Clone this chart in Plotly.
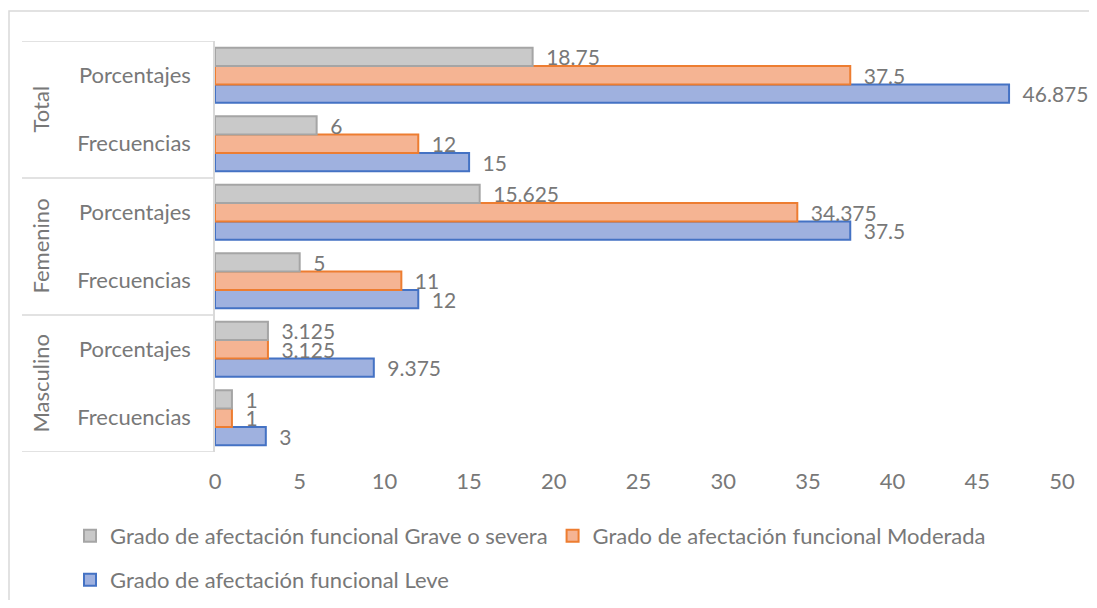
import plotly.graph_objects as go

# --- Data ---
groups = ["Masculino", "Masculino", "Femenino", "Femenino", "Total", "Total"]
measures = ["Frecuencias", "Porcentajes", "Frecuencias", "Porcentajes", "Frecuencias", "Porcentajes"]
leve = [3, 9.375, 12, 37.5, 15, 46.875]
moderada = [1, 3.125, 11, 34.375, 12, 37.5]
grave = [1, 3.125, 5, 15.625, 6, 18.75]
x_ticks = [0, 5, 10, 15, 20, 25, 30, 35, 40, 45, 50]

cat_ids = [f"{g} - {m}" for g, m in zip(groups, measures)]

FONT = "Lato, Calibri, sans-serif"
GREY_TXT = "#787878"
FS = 22

series = [
    ("Grado de afectación funcional Leve", leve, "#9fb1df", "#4472c4", "legend2"),
    ("Grado de afectación funcional Moderada", moderada, "#f5b493", "#ed7d31", "legend"),
    ("Grado de afectación funcional Grave o severa", grave, "#c9c9c9", "#a5a5a5", "legend"),
]

fig = go.Figure()
for name, vals, fill, edge, leg in series:
    fig.add_trace(go.Bar(
        y=cat_ids, x=vals, name=name, orientation="h", legend=leg,
        marker=dict(color=fill, line=dict(color=edge, width=2)),
        text=[f"\u2002{v:g}" for v in vals], textposition="outside",
        constraintext="none", cliponaxis=False,
        textfont=dict(family=FONT, size=21, color=GREY_TXT),
    ))

# page sits 8px in from the window corner (body margin)
OFF = 8
W, H = 1097 - 2 * OFF, 608 - 2 * OFF
L, T = 215 - OFF, 41 - OFF
R = (OFF + W) - 1062
B = (OFF + H) - 452
pw, ph = W - L - R, H - T - B

def px_x(px):
    # absolute window pixel -> x paper
    return (px - OFF - L) / pw

def px_y(py):
    return (H - B - (py - OFF)) / ph

shapes = []
# group separators in the category label area
for yb in [-0.5, 1.5, 3.5, 5.5]:
    shapes.append(dict(type="line", xref="paper", yref="y", x0=px_x(22), x1=0,
                       y0=yb, y1=yb, line=dict(color="#d9d9d9", width=1.5)))
# outer chart border
shapes.append(dict(type="rect", xref="paper", yref="paper",
                   x0=px_x(9), x1=px_x(1120), y0=px_y(640), y1=px_y(11),
                   line=dict(color="#d9d9d9", width=1.5), layer="below"))

annotations = []
for gi, g in enumerate(["Masculino", "Femenino", "Total"]):
    annotations.append(dict(
        xref="paper", yref="y", x=px_x(40), y=gi * 2 + 0.5, text=g,
        textangle=-90, showarrow=False, xanchor="center", yanchor="middle",
        font=dict(family=FONT, size=FS, color=GREY_TXT),
    ))

leg_common = dict(orientation="h", xanchor="left", yanchor="middle",
                  font=dict(family=FONT, size=FS, color=GREY_TXT),
                  itemwidth=30, itemclick=False, bgcolor="rgba(0,0,0,0)")

fig.update_layout(
    width=W, height=H,
    barmode="group", bargap=0.2, bargroupgap=0,
    plot_bgcolor="white", paper_bgcolor="white",
    margin=dict(l=L, r=R, t=T, b=B, autoexpand=False),
    font=dict(family=FONT, size=FS, color=GREY_TXT),
    shapes=shapes, annotations=annotations,
    legend=dict(x=px_x(70), y=px_y(536), traceorder="reversed", **leg_common),
    legend2=dict(x=px_x(70), y=px_y(580), **leg_common),
)
fig.update_xaxes(range=[0, 50], tickvals=x_ticks, showgrid=False, zeroline=False,
                 showline=False, ticks="", ticklabelstandoff=14,
                 tickfont=dict(size=FS, color=GREY_TXT))
fig.update_yaxes(tickvals=cat_ids, ticktext=measures, showgrid=False,
                 showline=True, linecolor="#d9d9d9", linewidth=1.5, ticks="",
                 ticklabelstandoff=18, tickfont=dict(size=FS, color=GREY_TXT),
                 range=[-0.5, 5.5])

fig.write_html("out.html")
